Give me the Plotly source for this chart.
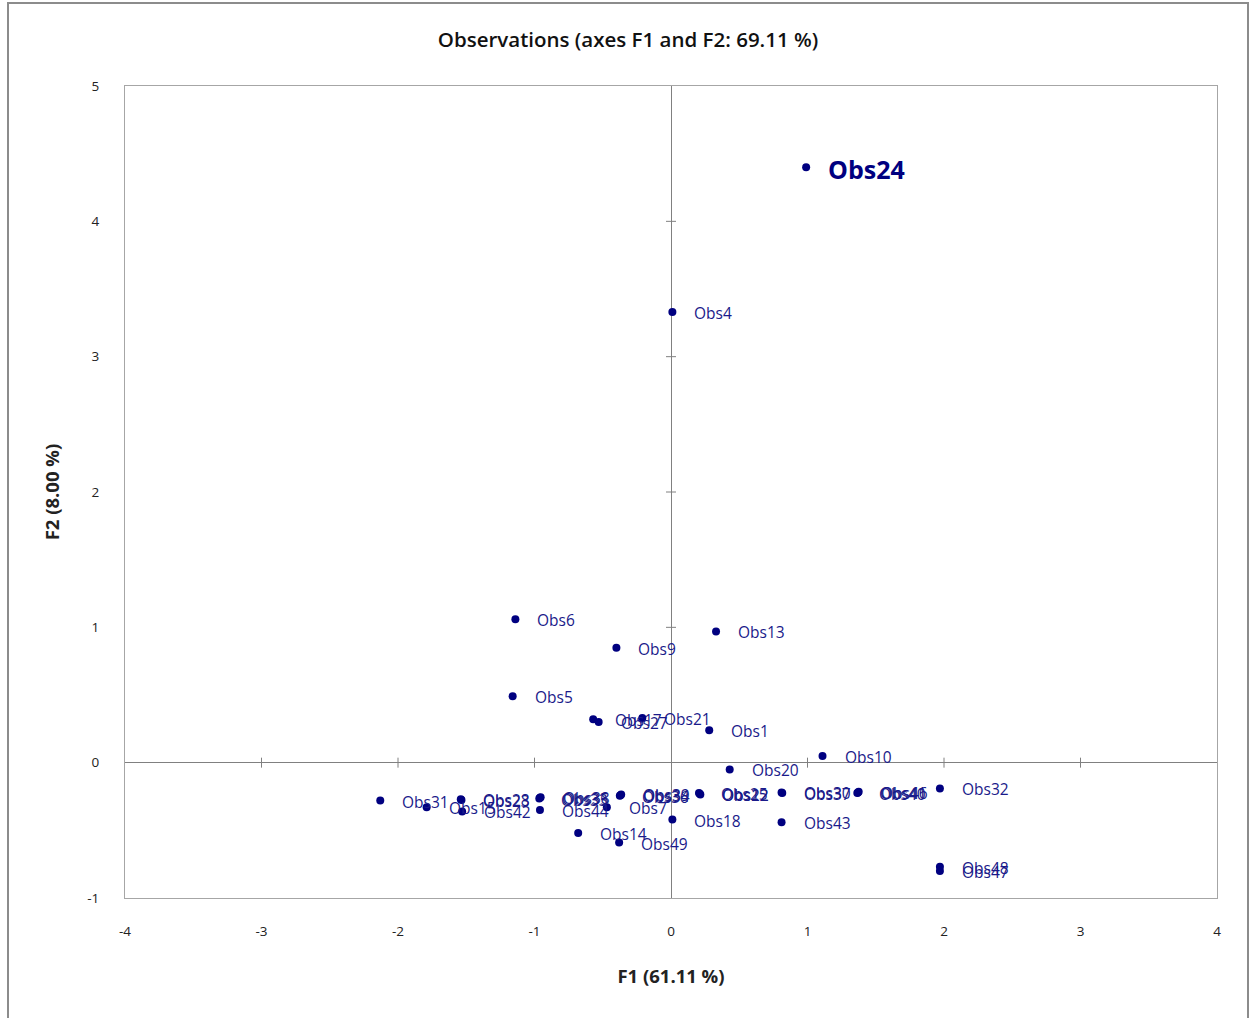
import plotly.graph_objects as go

labels = ["Obs24", "Obs4", "Obs6", "Obs13", "Obs9", "Obs5",
          "Obs17", "Obs27", "Obs21", "Obs1", "Obs10", "Obs20",
          "Obs31", "Obs15", "Obs28", "Obs23", "Obs42",
          "Obs35", "Obs38", "Obs33", "Obs44", "Obs7",
          "Obs34", "Obs39", "Obs36",
          "Obs12", "Obs22", "Obs25", "Obs18",
          "Obs30", "Obs37", "Obs43",
          "Obs41", "Obs46", "Obs40", "Obs32",
          "Obs48", "Obs47", "Obs14", "Obs49"]
f1 = [0.99, 0.01, -1.14, 0.33, -0.40, -1.16,
      -0.57, -0.53, -0.21, 0.28, 1.11, 0.43,
      -2.13, -1.79, -1.54, -1.535, -1.53,
      -0.96, -0.955, -0.965, -0.96, -0.47,
      -0.37, -0.365, -0.375,
      0.21, 0.215, 0.205, 0.01,
      0.81, 0.815, 0.81,
      1.37, 1.375, 1.365, 1.97,
      1.97, 1.97, -0.68, -0.38]
f2 = [4.40, 3.33, 1.06, 0.97, 0.85, 0.49,
      0.32, 0.30, 0.33, 0.24, 0.05, -0.05,
      -0.28, -0.33, -0.27, -0.275, -0.36,
      -0.26, -0.255, -0.265, -0.35, -0.33,
      -0.24, -0.235, -0.245,
      -0.23, -0.235, -0.225, -0.42,
      -0.22, -0.225, -0.44,
      -0.22, -0.215, -0.225, -0.19,
      -0.77, -0.80, -0.52, -0.59]

x_ticks = [-4, -3, -2, -1, 0, 1, 2, 3, 4]
y_ticks = [-1, 0, 1, 2, 3, 4, 5]
x_ticktext = [str(v) for v in x_ticks]   # plain hyphen minus as in reference
y_ticktext = [str(v) for v in y_ticks]

navy = "#000080"
label_color = "#1a1a8a"
font_family = "Open Sans, Noto Sans, Liberation Sans, sans-serif"

fig = go.Figure()
fig.add_trace(go.Scatter(
    x=f1, y=f2, mode="markers",
    marker=dict(color=navy, size=8),
    hoverinfo="text", text=labels, showlegend=False,
))

annotations = []
for lab, xv, yv in zip(labels, f1, f2):
    big = lab == "Obs24"
    annotations.append(dict(
        x=xv, y=yv, xref="x", yref="y",
        text=("<b>%s</b>" % lab) if big else lab, showarrow=False,
        xanchor="left", yanchor="middle",
        xshift=20, yshift=-2 if big else -1,
        font=dict(family=font_family, size=25 if big else 15.5,
                  color=navy if big else label_color),
    ))

shapes = []
# small tick marks crossing the zero axes
for t in x_ticks[1:-1]:
    if t == 0:
        continue
    shapes.append(dict(type="line", xref="x", yref="y", x0=t, x1=t,
                       ysizemode="pixel", yanchor=0, y0=-5, y1=5,
                       line=dict(color="#808080", width=1)))
for t in y_ticks[1:-1]:
    if t == 0:
        continue
    shapes.append(dict(type="line", xref="x", yref="y", y0=t, y1=t,
                       xsizemode="pixel", xanchor=0, x0=-5, x1=5,
                       line=dict(color="#808080", width=1)))

# outer chart frame (in paper coordinates, extended beyond plot area)
L, R, T, B = 125, 33, 86, 120
W, H = 1250, 1018
pw, ph = W - L - R, H - T - B
def px_x(p):
    return (p - L) / pw
def px_y(p):
    return (H - B - p) / ph
shapes.append(dict(type="rect", xref="paper", yref="paper",
                   x0=px_x(8), x1=px_x(1248), y0=px_y(1030), y1=px_y(3),
                   line=dict(color="#8c8c8c", width=2), layer="below"))

fig.update_layout(
    width=W, height=H,
    margin=dict(l=L, r=R, t=T, b=B, autoexpand=False),
    paper_bgcolor="white", plot_bgcolor="white",
    font=dict(family=font_family, size=13, color="#222222"),
    title=dict(text="Observations (axes F1 and F2: 69.11 %)",
               x=628 / W, xref="container", xanchor="center",
               y=1 - 40 / H, yref="container", yanchor="middle",
               font=dict(family=font_family, size=20.5, weight=600,
                         color="#111111")),
    annotations=annotations,
    shapes=shapes,
)
fig.update_xaxes(
    range=[-4, 4], tickvals=x_ticks, ticktext=x_ticktext, ticks="",
    showgrid=False,
    showline=True, mirror=True, linecolor="#a6a6a6", linewidth=1,
    zeroline=True, zerolinecolor="#808080", zerolinewidth=1,
    ticklabelstandoff=21,
    tickfont=dict(size=13.5, color="#222222"),
    title=dict(text="<b>F1 (61.11 %)</b>", standoff=30,
               font=dict(size=18.5, color="#222222")),
)
fig.update_yaxes(
    range=[-1, 5], tickvals=y_ticks, ticktext=y_ticktext, ticks="",
    showgrid=False,
    showline=True, mirror=True, linecolor="#a6a6a6", linewidth=1,
    zeroline=True, zerolinecolor="#808080", zerolinewidth=1,
    ticklabelstandoff=22,
    tickfont=dict(size=13.5, color="#222222"),
    title=dict(text="<b>F2 (8.00 %)</b>", standoff=22,
               font=dict(size=18.5, color="#222222")),
)

fig.write_html("out.html")
